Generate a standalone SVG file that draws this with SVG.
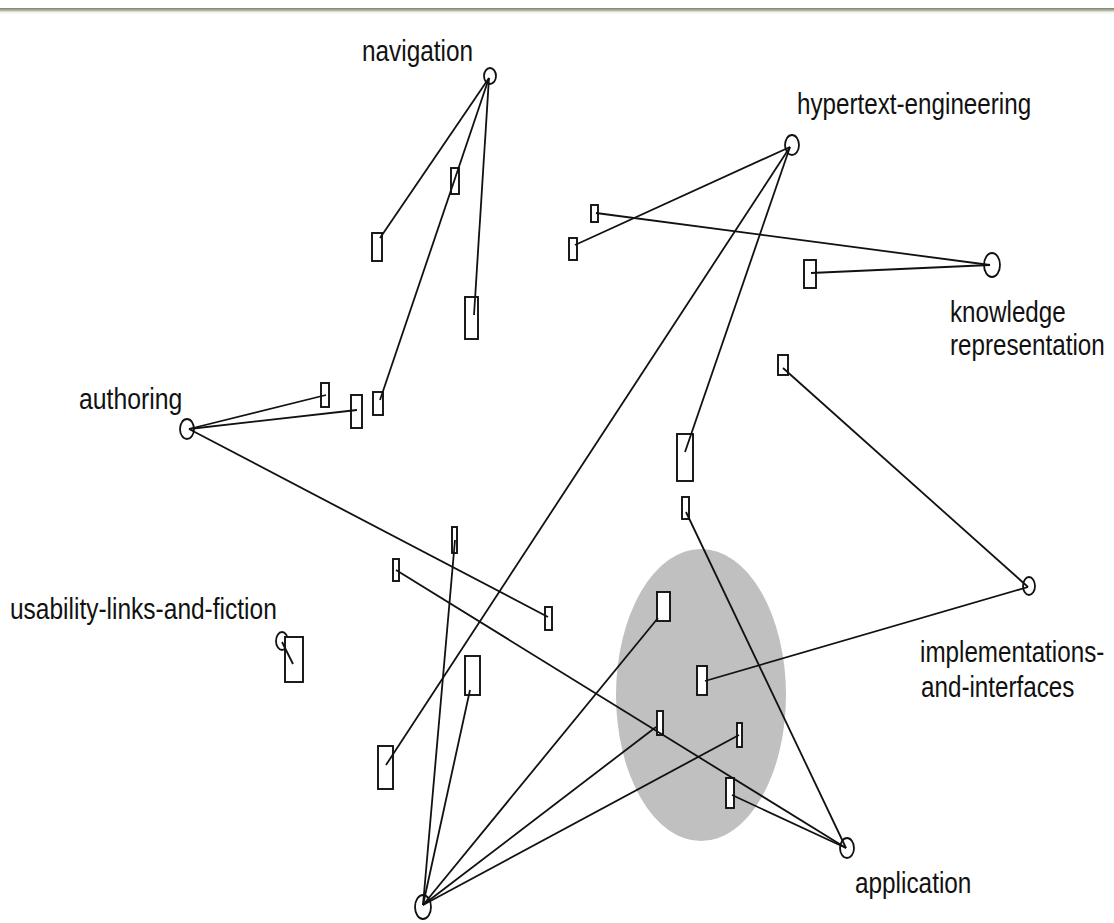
<svg xmlns="http://www.w3.org/2000/svg" width="1114" height="923" viewBox="0 0 1114 923">
<defs>
<linearGradient id="bar" x1="0" y1="0" x2="0" y2="1">
<stop offset="0" stop-color="#7d8270"/>
<stop offset="0.5" stop-color="#a9ac9a"/>
<stop offset="1" stop-color="#e6e7dc"/>
</linearGradient>
</defs>
<style>
.lbl{font-family:"Liberation Sans",Arial,sans-serif;font-size:29px;fill:#111}
.c{fill:#fff;stroke:#111;stroke-width:1.8}
.r{fill:#fff;stroke:#111;stroke-width:1.9}
.e{stroke:#111;stroke-width:1.8;fill:none}
</style>
<rect x="0" y="0" width="1114" height="923" fill="#fff"/>
<rect x="0" y="8" width="1114" height="4" fill="url(#bar)"/>
<rect x="0" y="12" width="1114" height="2" fill="#f7f7ef"/>
<ellipse id="cluster" cx="701" cy="695" rx="85" ry="146" fill="#c0c0c0"/>

<g id="navigation"><ellipse class="c" cx="490" cy="76" rx="6" ry="8"/><text class="lbl" transform="translate(362 61) scale(0.84 1)">navigation</text></g>
<g id="hypertext-engineering"><ellipse class="c" cx="792" cy="145" rx="7" ry="10"/><text class="lbl" transform="translate(797 114) scale(0.835 1)">hypertext-engineering</text></g>
<g id="knowledge-representation"><ellipse class="c" cx="992" cy="265" rx="8" ry="12"/><text class="lbl" transform="translate(950 322) scale(0.835 1)">knowledge</text><text class="lbl" transform="translate(950 355) scale(0.835 1)">representation</text></g>
<g id="authoring"><ellipse class="c" cx="187" cy="429" rx="7" ry="10"/><text class="lbl" transform="translate(79 409) scale(0.855 1)">authoring</text></g>
<g id="usability-links-and-fiction"><ellipse class="c" cx="282" cy="641" rx="6" ry="9"/><text class="lbl" transform="translate(10 619) scale(0.845 1)">usability-links-and-fiction</text></g>
<g id="implementations-and-interfaces"><ellipse class="c" cx="1029" cy="586" rx="6" ry="9"/><text class="lbl" transform="translate(920 662) scale(0.835 1)">implementations-</text><text class="lbl" transform="translate(921 697) scale(0.835 1)">and-interfaces</text></g>
<g id="application"><ellipse class="c" cx="847" cy="848" rx="7" ry="10"/><text class="lbl" transform="translate(855 893) scale(0.84 1)">application</text></g>
<g id="hub"><ellipse class="c" cx="423" cy="907" rx="8" ry="12"/></g>

<g id="r1"><rect class="r" x="451" y="168" width="8" height="26"/></g>
<g id="r2"><rect class="r" x="372" y="233" width="10" height="28"/></g>
<g id="r3"><rect class="r" x="465" y="297" width="13" height="42"/></g>
<g id="r4"><rect class="r" x="321" y="383" width="8" height="24"/></g>
<g id="r5"><rect class="r" x="351" y="395" width="11" height="33"/></g>
<g id="r6"><rect class="r" x="373" y="392" width="10" height="23"/></g>
<g id="r7"><rect class="r" x="569" y="238" width="8" height="22"/></g>
<g id="r8"><rect class="r" x="591" y="205" width="7" height="17"/></g>
<g id="r9"><rect class="r" x="804" y="260" width="12" height="28"/></g>
<g id="r10"><rect class="r" x="778" y="355" width="10" height="20"/></g>
<g id="r11"><rect class="r" x="677" y="434" width="16" height="47"/></g>
<g id="r12"><rect class="r" x="682" y="497" width="7" height="22"/></g>
<g id="r13"><rect class="r" x="452" y="527" width="5" height="26"/></g>
<g id="r14"><rect class="r" x="393" y="559" width="6" height="22"/></g>
<g id="r15"><rect class="r" x="545" y="607" width="7" height="23"/></g>
<g id="r16"><rect class="r" x="465" y="656" width="15" height="39"/></g>
<g id="r17"><rect class="r" x="378" y="746" width="15" height="43"/></g>
<g id="r18"><rect class="r" x="657" y="592" width="13" height="29"/></g>
<g id="r19"><rect class="r" x="697" y="666" width="10" height="29"/></g>
<g id="r20"><rect class="r" x="657" y="711" width="6" height="24"/></g>
<g id="r21"><rect class="r" x="737" y="723" width="5" height="24"/></g>
<g id="r22"><rect class="r" x="726" y="778" width="8" height="30"/></g>
<g id="r23"><rect class="r" x="285" y="637" width="18" height="45"/></g>

<g id="connectors" class="e">
<line x1="489" y1="78" x2="380" y2="238"/>
<line x1="489" y1="78" x2="380" y2="400"/>
<line x1="489" y1="78" x2="474" y2="315"/>
<line x1="790" y1="147" x2="575" y2="245"/>
<line x1="790" y1="147" x2="386" y2="765"/>
<line x1="790" y1="147" x2="685" y2="452"/>
<line x1="990" y1="265" x2="596" y2="213"/>
<line x1="990" y1="265" x2="811" y2="273"/>
<line x1="189" y1="429" x2="326" y2="395"/>
<line x1="189" y1="429" x2="357" y2="410"/>
<line x1="189" y1="429" x2="548" y2="617"/>
<line x1="396" y1="570" x2="846" y2="848"/>
<line x1="732" y1="795" x2="846" y2="848"/>
<line x1="686" y1="512" x2="846" y2="848"/>
<line x1="455" y1="540" x2="423" y2="905"/>
<line x1="470" y1="690" x2="423" y2="905"/>
<line x1="658" y1="618" x2="423" y2="905"/>
<line x1="656" y1="727" x2="423" y2="905"/>
<line x1="739" y1="735" x2="423" y2="905"/>
<line x1="705" y1="681" x2="1028" y2="587"/>
<line x1="783" y1="368" x2="1028" y2="587"/>
<line x1="282" y1="642" x2="293" y2="664"/>
</g>
</svg>
